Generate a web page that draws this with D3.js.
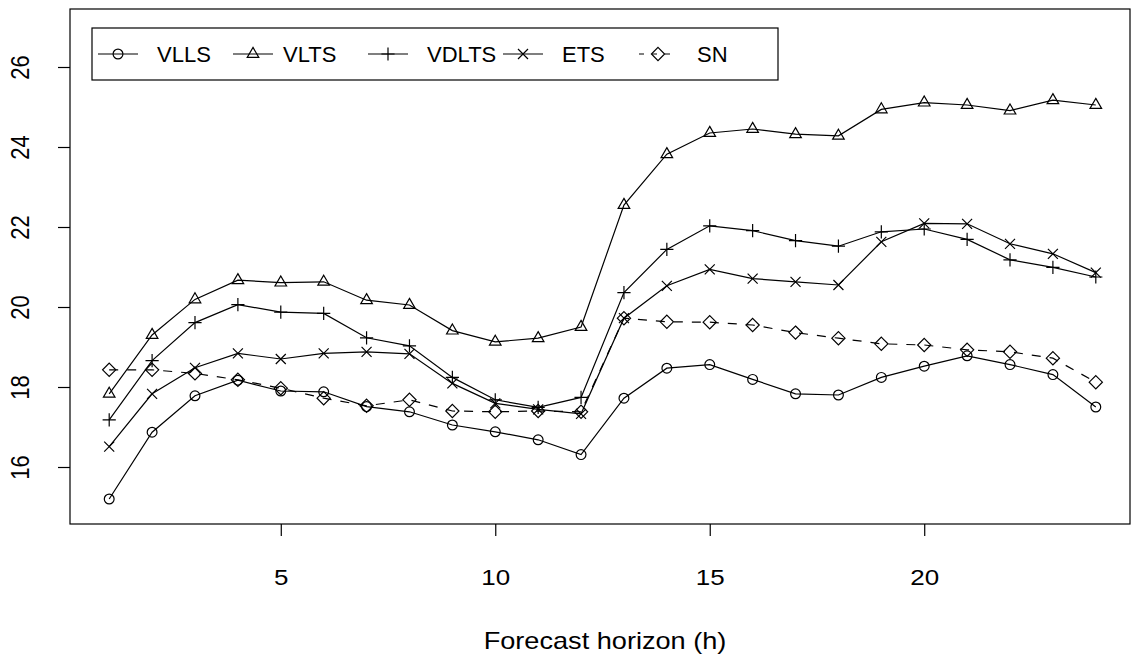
<!DOCTYPE html>
<html>
<head>
<meta charset="utf-8">
<script src="https://cdn.jsdelivr.net/npm/d3@7/dist/d3.min.js"></script>
<style>
  body { margin: 0; background: #fff; }
  svg { display: block; }
  text { font-family: "Liberation Sans", Arial, Helvetica, sans-serif; fill: #000; }
</style>
</head>
<body>
<svg id="chart" width="1131" height="657"></svg>
<script>
// forecast horizon (hours ahead)
const hours = [1, 2, 3, 4, 5, 6, 7, 8, 9, 10, 11, 12, 13, 14, 15, 16, 17, 18, 19, 20, 21, 22, 23, 24];

const vlls = [15.2, 16.87, 17.78, 18.17, 17.9, 17.88, 17.51, 17.38, 17.05, 16.88, 16.68, 16.31,
  17.72, 18.47, 18.56, 18.19, 17.83, 17.8, 18.24, 18.52, 18.78, 18.56, 18.31, 17.5];
const vlts = [17.83, 19.3, 20.19, 20.67, 20.61, 20.63, 20.17, 20.05, 19.41, 19.13, 19.22, 19.5,
  22.55, 23.82, 24.35, 24.45, 24.32, 24.28, 24.94, 25.11, 25.05, 24.91, 25.17, 25.05];
const vdlts = [17.18, 18.66, 19.61, 20.06, 19.87, 19.84, 19.23, 19.03, 18.24, 17.68, 17.49, 17.74,
  20.36, 21.44, 22.03, 21.91, 21.66, 21.52, 21.88, 21.95, 21.69, 21.18, 20.99, 20.75];
const ets = [16.51, 17.83, 18.48, 18.84, 18.7, 18.84, 18.88, 18.83, 18.09, 17.59, 17.44, 17.33,
  19.72, 20.53, 20.94, 20.71, 20.63, 20.55, 21.63, 22.09, 22.08, 21.58, 21.33, 20.86];
const sn = [18.43, 18.43, 18.34, 18.18, 17.97, 17.72, 17.53, 17.68, 17.4, 17.38, 17.4, 17.38,
  19.72, 19.63, 19.62, 19.55, 19.36, 19.22, 19.08, 19.05, 18.93, 18.88, 18.72, 18.12];

const series_names = ["VLLS", "VLTS", "VDLTS", "ETS", "SN"];
const x_ticks = [5, 10, 15, 20];
const y_ticks = [16, 18, 20, 22, 24, 26];
const x_label = "Forecast horizon (h)";

// marker shapes like R's pch 1..5
const marker_paths = {
  circle: d3.arc()({ innerRadius: 0, outerRadius: 4.9, startAngle: 0, endAngle: 2 * Math.PI }),
  triangle: "M0,-6.6L5.8,3.4L-5.8,3.4Z",
  plus: "M-6.6,0H6.6M0,-6.6V6.6",
  cross: "M-5,-5L5,5M-5,5L5,-5",
  diamond: "M0,-6.6L6.6,0L0,6.6L-6.6,0Z",
};

const series = [
  { name: series_names[0], values: vlls, marker: "circle", dash: null },
  { name: series_names[1], values: vlts, marker: "triangle", dash: null },
  { name: series_names[2], values: vdlts, marker: "plus", dash: null },
  { name: series_names[3], values: ets, marker: "cross", dash: null },
  { name: series_names[4], values: sn, marker: "diamond", dash: "9,9" },
];

const stretch = 1.18; // text in the original is a bit wide
const stroke_w = 1.2;

const svg = d3.select("#chart");
const box = { left: 70, right: 1130, top: 9, bottom: 524 };

const x = d3.scaleLinear().domain([1, 24]).range([109.2, 1095.8]);
const y = d3.scaleLinear().domain([16, 26]).range([467, 67]);

// lines + points
const line = d3.line()
  .x((d, i) => x(hours[i]))
  .y((d) => y(d));

series.forEach((s) => {
  svg.append("path")
    .attr("d", line(s.values))
    .attr("fill", "none")
    .attr("stroke", "#000")
    .attr("stroke-width", stroke_w)
    .attr("stroke-dasharray", s.dash);

  svg.selectAll(null)
    .data(s.values)
    .enter()
    .append("path")
    .attr("d", marker_paths[s.marker])
    .attr("transform", (d, i) => `translate(${x(hours[i])},${y(d)})`)
    .attr("fill", "none")
    .attr("stroke", "#000")
    .attr("stroke-width", stroke_w);
});

// x axis
const xg = svg.append("g")
  .attr("transform", `translate(0,${box.bottom})`)
  .call(d3.axisBottom(x).tickValues(x_ticks).tickSize(12).tickSizeOuter(0).tickFormat(d3.format("d")));
xg.select(".domain").remove();
xg.selectAll("line").attr("stroke", "#000").attr("stroke-width", stroke_w);
xg.selectAll("text")
  .attr("y", 61)
  .attr("dy", null)
  .attr("font-size", 22)
  .attr("transform", `scale(${stretch},1)`);

// y axis
const yg = svg.append("g")
  .attr("transform", `translate(${box.left},0)`)
  .call(d3.axisLeft(y).tickValues(y_ticks).tickSize(12).tickSizeOuter(0).tickFormat(d3.format("d")));
yg.select(".domain").remove();
yg.selectAll("line").attr("stroke", "#000").attr("stroke-width", stroke_w);
yg.selectAll("text")
  .attr("x", null)
  .attr("dy", null)
  .attr("text-anchor", "middle")
  .attr("font-size", 22)
  .attr("transform", `translate(-41,0) scale(${stretch},1) rotate(-90)`);

// plot frame
svg.append("rect")
  .attr("x", box.left)
  .attr("y", box.top)
  .attr("width", box.right - box.left)
  .attr("height", box.bottom - box.top)
  .attr("fill", "none")
  .attr("stroke", "#000")
  .attr("stroke-width", stroke_w);

// axis title
svg.append("text")
  .attr("transform", `translate(605,649) scale(${stretch},1)`)
  .attr("text-anchor", "middle")
  .attr("font-size", 23)
  .text(x_label);

// legend
const legend = svg.append("g");
legend.append("rect")
  .attr("x", 92).attr("y", 28)
  .attr("width", 686).attr("height", 52)
  .attr("fill", "#fff")
  .attr("stroke", "#000")
  .attr("stroke-width", stroke_w);

const item = legend.selectAll("g.item")
  .data(series)
  .enter()
  .append("g")
  .attr("class", "item")
  .attr("transform", (d, i) => `translate(${98 + i * 135},54)`);

item.append("line")
  .attr("x1", 0).attr("x2", 40)
  .attr("stroke", "#000")
  .attr("stroke-width", stroke_w)
  .attr("stroke-dasharray", (d) => d.dash ? "5,8" : null)
  .attr("stroke-dashoffset", (d) => d.dash ? -1 : null);

item.append("path")
  .attr("d", (d) => marker_paths[d.marker])
  .attr("transform", "translate(20,0)")
  .attr("fill", "none")
  .attr("stroke", "#000")
  .attr("stroke-width", stroke_w);

item.append("text")
  .attr("x", (d, i) => (i === 1 ? 50 : 59))
  .attr("y", 8)
  .attr("font-size", 22)
  .text((d) => d.name);
</script>
</body>
</html>
